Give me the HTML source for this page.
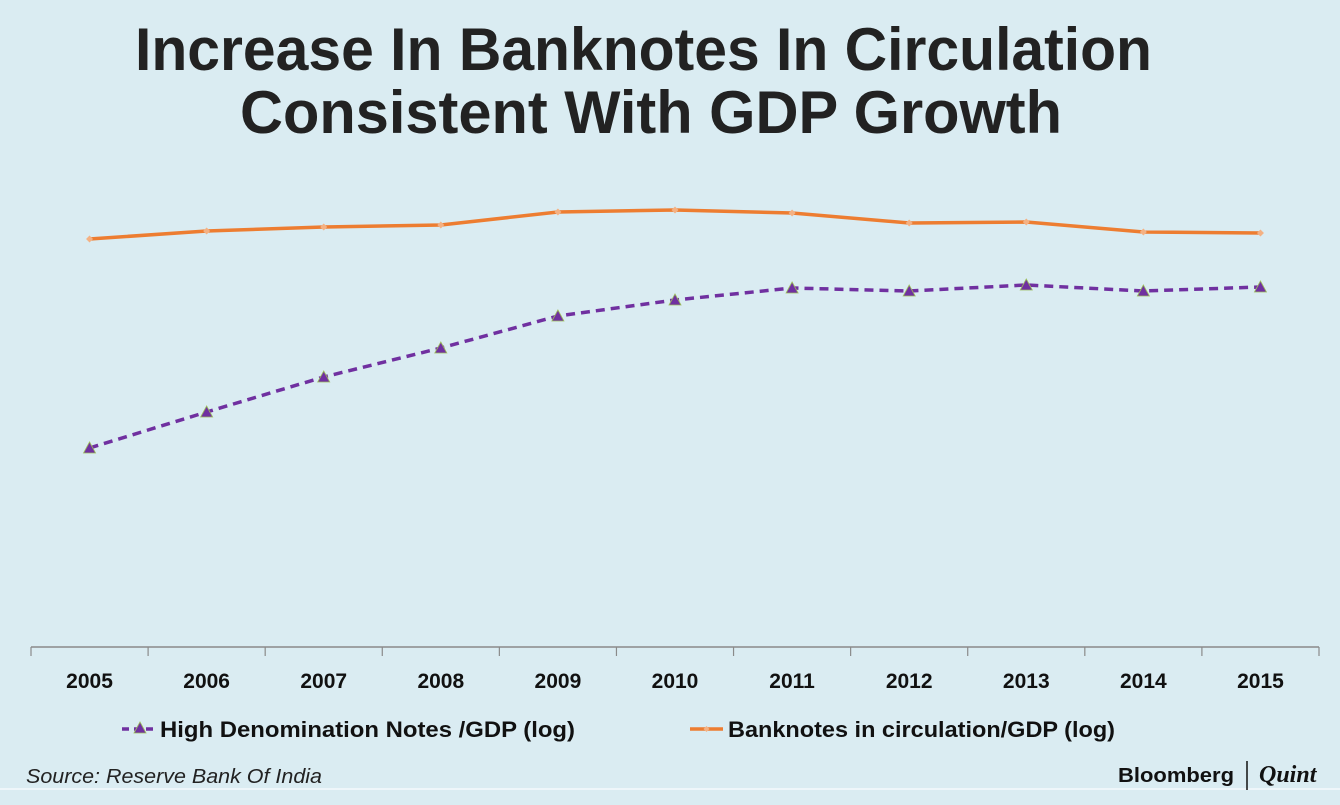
<!DOCTYPE html>
<html><head><meta charset="utf-8"><style>
body{margin:0;width:1340px;height:800px;background:#daecf2;overflow:hidden;font-family:"Liberation Sans",sans-serif}
</style></head><body>
<svg width="1340" height="800" xmlns="http://www.w3.org/2000/svg">
<rect width="1340" height="800" fill="#daecf2"/>
<text x="135" y="70" textLength="1017" lengthAdjust="spacingAndGlyphs" font-size="60" font-weight="bold" fill="#222">Increase In Banknotes In Circulation</text>
<text x="240" y="133" textLength="822" lengthAdjust="spacingAndGlyphs" font-size="60" font-weight="bold" fill="#222">Consistent With GDP Growth</text>
<g id="axis"></g>
<g id="series"></g>
<g>
<g>
<line x1="122" y1="729" x2="155" y2="729" stroke="#7030a0" stroke-width="3.5" stroke-dasharray="7,5"/>
<polygon points="140,722 146,733 134,733" fill="#7030a0" stroke="#9bbb59" stroke-width="0.8"/>
<text x="160" y="737" textLength="415" lengthAdjust="spacingAndGlyphs" font-size="22" font-weight="bold" fill="#111">High Denomination Notes /GDP (log)</text>
</g>
<g>
<line x1="690" y1="729" x2="723" y2="729" stroke="#ed7d31" stroke-width="3.5"/>
<polygon points="706.5,726 709.5,729 706.5,732 703.5,729" fill="#f4b183"/>
<text x="728" y="737" textLength="387" lengthAdjust="spacingAndGlyphs" font-size="22" font-weight="bold" fill="#111">Banknotes in circulation/GDP (log)</text>
</g>
</g>
<text x="26" y="783" textLength="296" lengthAdjust="spacingAndGlyphs" font-size="20" font-style="italic" fill="#222">Source: Reserve Bank Of India</text>
<line x1="0" y1="789" x2="1340" y2="789" stroke="#f4fafc" stroke-width="1.5"/>
<text x="1118" y="782" textLength="116" lengthAdjust="spacingAndGlyphs" font-size="20" font-weight="bold" fill="#111">Bloomberg</text>
<line x1="1247" y1="761" x2="1247" y2="790" stroke="#111" stroke-width="1.5"/>
<text x="1259" y="782" font-family="Liberation Serif,serif" font-size="24" font-weight="bold" font-style="italic" fill="#111">Quint</text>
</svg>
<script>
const categories=["2005","2006","2007","2008","2009","2010","2011","2012","2013","2014","2015"];
const banknotes=[408,416,420,422,435,437,434,424,425,415,414];
const highDenom=[199,235,270,299,331,347,359,356,362,356,360];
const NS="http://www.w3.org/2000/svg";
const x0=31,x1=1319,yBase=647;
const band=(x1-x0)/categories.length;
function xs(i){return x0+band*(i+0.5);}
function ys(v){return yBase-v;}
const ax=document.getElementById('axis'),sr=document.getElementById('series');
function mk(t,a,p){const e=document.createElementNS(NS,t);for(const k in a)e.setAttribute(k,a[k]);p.appendChild(e);return e;}
const al=mk('line',{x1:x0,y1:yBase,x2:x1,y2:yBase,stroke:'#8a8a8a','stroke-width':1.5},ax);


for(let i=0;i<=categories.length;i++){
 const t=mk('line',{x1:x0+band*i,y1:yBase,x2:x0+band*i,y2:yBase+9,stroke:'#8a8a8a','stroke-width':1.2},ax);
 
 
}
categories.forEach((c,i)=>{
 const t=mk('text',{x:xs(i),y:688,'text-anchor':'middle','font-size':21,'font-weight':'bold',fill:'#111'},ax);
 t.textContent=c;
 
 
});
const p1=mk('polyline',{points:highDenom.map((v,i)=>xs(i)+','+ys(v)).join(' '),fill:'none',stroke:'#7030a0','stroke-width':3.5,'stroke-dasharray':'9,6'},sr);


const p2=mk('polyline',{points:banknotes.map((v,i)=>xs(i)+','+ys(v)).join(' '),fill:'none',stroke:'#ed7d31','stroke-width':3.5},sr);


highDenom.forEach((v,i)=>{
 const x=xs(i),y=ys(v);
 const m=mk('polygon',{points:`${x},${y-6} ${x+6},${y+5} ${x-6},${y+5}`,fill:'#7030a0',stroke:'#9bbb59','stroke-width':0.8},sr);
 
 
});
banknotes.forEach((v,i)=>{
 const x=xs(i),y=ys(v);
 const m=mk('polygon',{points:`${x},${y-3.5} ${x+3.5},${y} ${x},${y+3.5} ${x-3.5},${y}`,fill:'#f4b183'},sr);
 
 
});
</script>
</body></html>
